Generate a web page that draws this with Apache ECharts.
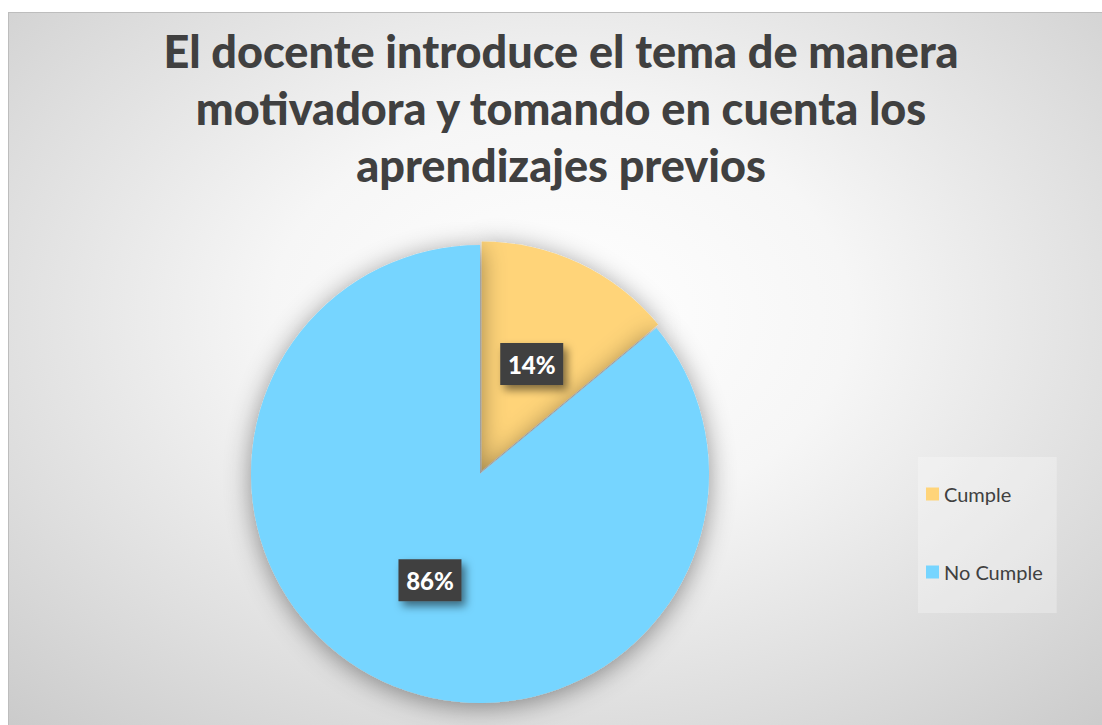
<!DOCTYPE html>
<html>
<head>
<meta charset="utf-8">
<script src="https://cdn.jsdelivr.net/npm/echarts@6/dist/echarts.min.js"></script>
<style>
  html, body { margin: 0; padding: 0; background: #fff; overflow: hidden; }
  #frame {
    position: absolute; left: 8px; top: 12px;
    width: 1104px; height: 720px;
    border-top: 1px solid #bdbdbd; border-left: 1px solid #bdbdbd;
    background: radial-gradient(ellipse 75% 80% at 50% 42%, #ffffff 0%, #f6f6f6 35%, #dedede 70%, #c9c9c9 100%);
  }
  #chart { width: 1104px; height: 720px; }
</style>
</head>
<body>
<div id="frame"><div id="chart"></div></div>
<script>
const titleLines = ['El docente introduce el tema de manera', 'motivadora y tomando en cuenta los', 'aprendizajes previos']
const categories = ['Cumple', 'No Cumple']
const percentValues = [14, 86]
const sliceColors = ['#FFD479', '#76D5FF']

const chart = echarts.init(document.getElementById('chart'), null, { renderer: 'svg' })

chart.setOption({
  backgroundColor: 'transparent',
  animation: false,
  title: {
    text: titleLines.join('\n'),
    left: 'center',
    top: 4,
    textStyle: {
      fontFamily: 'Lato',
      fontWeight: 900,
      fontSize: 45,
      lineHeight: 57,
      color: '#404040'
    }
  },
  legend: {
    orient: 'vertical',
    left: 909,
    top: 444,
    backgroundColor: 'rgba(255,255,255,0.28)',
    padding: [27, 14, 31, 8],
    itemGap: 58,
    itemWidth: 13,
    itemHeight: 13,
    icon: 'rect',
    selectedMode: false,
    data: categories,
    textStyle: {
      fontFamily: 'Lato',
      fontSize: 20,
      color: '#404040'
    }
  },
  series: [
    {
      type: 'pie',
      center: [471, 461],
      radius: 229,
      startAngle: 90,
      clockwise: true,
      selectedMode: 'single',
      selectedOffset: 4,
      emphasis: { disabled: true },
      itemStyle: {
        shadowBlur: 26,
        shadowColor: 'rgba(0,0,0,0.42)',
        shadowOffsetX: 0,
        shadowOffsetY: 4
      },
      label: {
        show: true,
        position: 'inner',
        formatter: '{d}%',
        fontFamily: 'Lato',
        fontWeight: 900,
        fontSize: 24,
        color: '#ffffff',
        width: 63,
        height: 42,
        lineHeight: 42,
        align: 'center',
        backgroundColor: '#404040',
        shadowColor: 'rgba(0,0,0,0.5)',
        shadowBlur: 8,
        shadowOffsetX: 4,
        shadowOffsetY: 5,
        textShadowColor: 'transparent',
        textShadowBlur: 0
      },
      labelLine: { show: false },
      data: categories.map((name, i) => ({
        name,
        value: percentValues[i],
        selected: i === 0,
        itemStyle: { color: sliceColors[i] }
      }))
    }
  ]
})
</script>
</body>
</html>
